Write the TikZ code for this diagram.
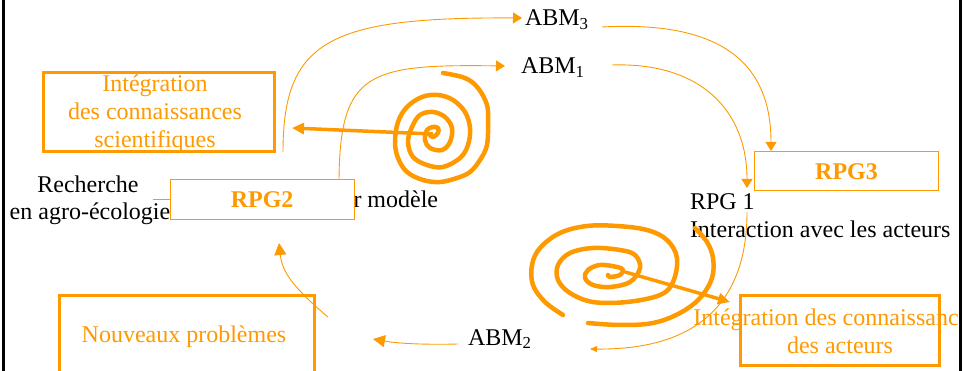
\documentclass[tikz,border=0pt]{standalone}
\usepackage{fontspec}
\setmainfont{Liberation Serif}
\usetikzlibrary{arrows.meta}
\definecolor{orng}{RGB}{255,153,0}
\begin{document}
\begin{tikzpicture}[x=1pt,y=-1pt,
  every node/.style={inner sep=0pt, outer sep=0pt, font=\fontsize{24}{28}\selectfont},
  lbl/.style={text=black},
  olbl/.style={text=orng},
  heavybox/.style={draw=orng, line width=3pt},
  lightbox/.style={draw=orng, line width=1pt, fill=white, text=orng,
    font=\fontsize{24}{28}\selectfont\bfseries},
  link/.style={draw=orng, line width=0.9pt, -{Triangle[length=9pt,width=11pt]}},
  biglink/.style={draw=orng, line width=0.9pt, -{Triangle[length=12pt,width=12pt]}},
  smalllink/.style={draw=orng, line width=0.9pt, -{Triangle[length=7pt,width=6pt]}},
  swirl/.style={draw=orng, line width=4.5pt, line cap=round, line join=round},
  pointer/.style={draw=orng, line width=3.5pt, -{Triangle[length=12pt,width=11pt]}}
]
\useasboundingbox (0,0) rectangle (964,371);

\begin{scope}
\clip (0,0) rectangle (959,371);

% heavy framed boxes
\node[heavybox, minimum width=231pt, minimum height=79pt] (sci) at (158.5,111.8) {};
\node[heavybox, minimum width=254.3pt, minimum height=100pt] (nouv) at (186.85,345.3) {};
\node[heavybox, minimum width=199.7pt, minimum height=69.5pt] (act) at (839.85,330.55) {};

% texts
\node[olbl, anchor=base] (sci1) at (155,92) {Intégration};
\node[olbl, anchor=base] (sci2) at (155,120) {des connaissances};
\node[olbl, anchor=base] (sci3) at (155,148) {scientifiques};
\node[olbl, anchor=base] (nouvt) at (184,343) {Nouveaux problèmes};
\node[olbl, anchor=base] (act1) at (836,326) {Intégration des connaissances};
\node[olbl, anchor=base] (act2) at (840,354) {des acteurs};

\node[lbl, anchor=base] (rech1) at (88,193) {Recherche};
\node[lbl, anchor=base] (rech2) at (90,220) {en agro-écologie};
\node[lbl, anchor=base west] (model) at (353.5,208) {r modèle};

\node[lbl, anchor=base west] (rpg1a) at (690,210) {RPG 1};
\node[lbl, anchor=base west] (rpg1b) at (690,238) {Interaction avec les acteurs};

\node[lbl, anchor=base west] (abm3) at (525,26) {ABM\textsubscript{3}};
\node[lbl, anchor=base west] (abm1) at (521,74) {ABM\textsubscript{1}};
\node[lbl, anchor=base west] (abm2) at (468,345) {ABM\textsubscript{2}};

% light boxes
\node[lightbox, minimum width=184.3pt, minimum height=40pt] (rpg2) at (262.15,200) {RPG2};
\node[lightbox, minimum width=184.4pt, minimum height=39pt] (rpg3) at (846.5,171.5) {RPG3};

% connector end points
\coordinate (sciOut) at (283,152);
\coordinate (abm3In) at (522,18);
\coordinate (rpg2Out) at (339,180);
\coordinate (abm1In) at (505,66);
\coordinate (abm3Out) at (602,27);
\coordinate (rpg3In) at (771,151);
\coordinate (abm1Out) at (612,65);
\coordinate (rpg1In) at (747,188);
\coordinate (rpg1Out) at (747,212);
\coordinate (abm2In) at (590,349);
\coordinate (abm2Out) at (458,344);
\coordinate (nouvIn) at (373,339);
\coordinate (nouvOut) at (328,317);
\coordinate (rpg2In) at (279,243);
\coordinate (stub) at (153,199.5);
\coordinate (swirlA) at (433,134);
\coordinate (sciIn) at (292,128);
\coordinate (swirlB) at (625,272);
\coordinate (actIn) at (730,302);

% thin connectors
\draw[link] (sciOut) .. controls (283,40) and (330,17) .. (abm3In);
\draw[link] (rpg2Out) .. controls (340,72) and (368,64) .. (abm1In);
\draw[link] (abm3Out) .. controls (730,20) and (771,70) .. (rpg3In);
\draw[link] (abm1Out) .. controls (700,62) and (747,110) .. (rpg1In);
\draw[smalllink] (rpg1Out) .. controls (747,300) and (700,350) .. (abm2In);
\draw[biglink] (abm2Out) .. controls (420,345) and (395,343) .. (nouvIn);
\draw[biglink] (nouvOut) .. controls (290,285) and (282,270) .. (rpg2In);
\draw[orng, line width=0.9pt] (stub) -- (rpg2.west |- stub);

% spirals
\draw[swirl] plot[smooth, tension=0.6] coordinates {
  (430,135) (433,137) (438,133) (438,128) (433,127) (427,130) (425,140)
  (430,148) (442,150) (450,142) (452,128) (445,117) (433,112) (420,115)
  (412,127) (408,142) (413,157) (427,165) (443,167) (460,158) (468,145)
  (470,128) (465,112) (453,100) (438,95) (422,97) (407,107) (398,122)
  (395,142) (398,158) (407,172) (423,180) (440,182) (457,178) (470,172)
  (480,160) (487,145) (488,122) (487,105) (478,88) (465,78) (443,73)};
\draw[swirl] plot[smooth, tension=0.6] coordinates {
  (608,275) (610,277) (620,275) (623,270) (617,267) (600,265) (588,270)
  (585,278) (593,285) (610,287) (630,282) (640,268) (635,255) (620,250)
  (593,248) (570,253) (558,265) (558,280) (570,293) (593,302) (627,302)
  (660,295) (673,282) (677,258) (667,240) (647,230) (617,226) (587,226)
  (560,233) (540,248) (532,265) (533,285) (545,302) (563,315)};
\draw[swirl] plot[smooth, tension=0.6] coordinates {
  (588,323) (620,325) (653,323) (680,313) (700,298) (712,278) (713,258)
  (707,242) (695,228)};

% pointers from the spiral centres
\draw[pointer] (swirlA) -- (sciIn);
\draw[pointer] (swirlB) -- (actIn);
\end{scope}

% side rules of the frame
\draw[line width=3pt] (3.5,0) -- (3.5,371);
\draw[line width=2.5pt] (960.5,0) -- (960.5,371);
\end{tikzpicture}
\end{document}
